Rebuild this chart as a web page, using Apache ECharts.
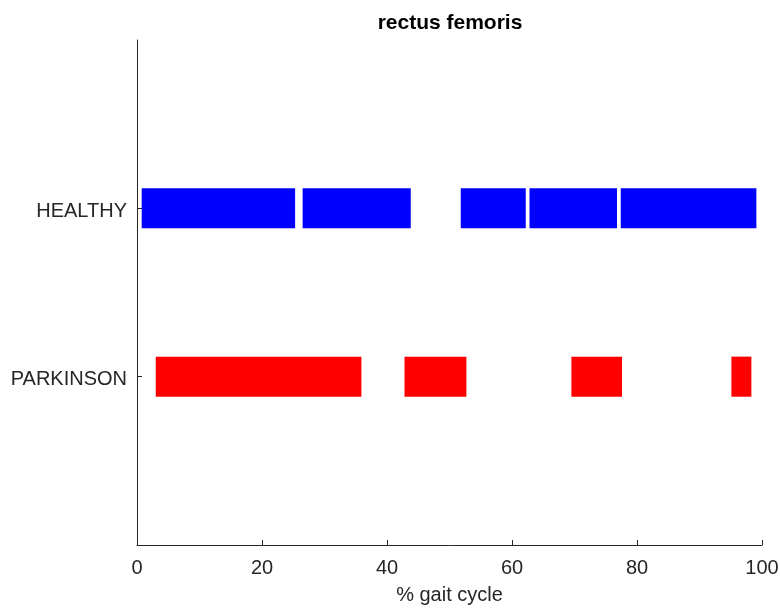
<!DOCTYPE html>
<html>
<head>
<meta charset="utf-8">
<title>rectus femoris</title>
<script src="https://cdn.jsdelivr.net/npm/echarts@6/dist/echarts.min.js"></script>
<style>
  html, body { margin: 0; padding: 0; background: #ffffff; }
  #chart { width: 780px; height: 608px; }
</style>
</head>
<body>
<div id="chart"></div>
<script>
// Muscle activation intervals over the gait cycle (% of cycle)
const groups = ['PARKINSON', 'HEALTHY'];          // y positions 1 and 2
const groupColors = ['#ff0000', '#0000ff'];
const healthyStart = [0.75, 26.5, 51.8, 62.8, 77.4];
const healthyEnd   = [25.3, 43.8, 62.2, 76.8, 99.1];
const parkinsonStart = [3.0, 42.8, 69.5, 95.1];
const parkinsonEnd   = [35.9, 52.7, 77.6, 98.3];
const xTicks = [0, 20, 40, 60, 80, 100];

const textColor = '#262626';
const fontFamily = '"Liberation Sans", Arial, Helvetica, sans-serif';

// Build [level, start, end] rows for the custom series
function rows(level, starts, ends) {
  return starts.map((s, i) => [level, s, ends[i]]);
}
const segData = [
  ...rows(1, parkinsonStart, parkinsonEnd),
  ...rows(2, healthyStart, healthyEnd)
];

const chart = echarts.init(document.getElementById('chart'), null, { renderer: 'canvas' });

chart.setOption({
  backgroundColor: '#ffffff',
  animation: false,
  graphic: [{
    type: 'text',
    x: 450,
    y: 23,
    style: {
      text: 'rectus femoris',
      align: 'center',
      verticalAlign: 'middle',
      font: 'bold 21px ' + fontFamily,
      fill: '#000000'
    }
  }],
  grid: { left: 137, right: 18, top: 40, bottom: 63, containLabel: false, outerBoundsMode: 'none' },
  xAxis: {
    type: 'value',
    min: 0,
    max: 100,
    interval: 20,
    name: '% gait cycle',
    nameLocation: 'middle',
    nameGap: 40,
    nameTextStyle: { fontFamily, fontSize: 20, color: textColor },
    axisLine: { show: true, lineStyle: { color: textColor, width: 1 } },
    axisTick: { show: true, inside: true, length: 5, lineStyle: { color: textColor } },
    axisLabel: { fontFamily, fontSize: 20, color: textColor, margin: 13,
                 customValues: xTicks },
    splitLine: { show: false }
  },
  yAxis: {
    type: 'value',
    min: 0,
    max: 3,
    interval: 1,
    axisLine: { show: true, lineStyle: { color: textColor, width: 1 } },
    axisTick: { show: true, inside: true, length: 5, lineStyle: { color: textColor },
                customValues: [1, 2] },
    axisLabel: {
      fontFamily, fontSize: 20, color: textColor, margin: 10,
      customValues: [1, 2],
      formatter: v => (groups[v - 1] ? '{g|' + groups[v - 1] + '}' : ''),
      rich: {
        g: { fontFamily, fontSize: 20, color: textColor, padding: [6, 0, 0, 0] }
      }
    },
    splitLine: { show: false }
  },
  series: [{
    type: 'custom',
    data: segData,
    encode: { x: [1, 2], y: 0 },
    renderItem: function (params, api) {
      const level = api.value(0);
      const p0 = api.coord([api.value(1), level]);
      const p1 = api.coord([api.value(2), level]);
      const h = api.size([0, 0.238])[1];
      return {
        type: 'rect',
        shape: { x: p0[0], y: p0[1] - h / 2, width: p1[0] - p0[0], height: h },
        style: { fill: groupColors[level - 1] }
      };
    }
  }]
});
</script>
</body>
</html>
